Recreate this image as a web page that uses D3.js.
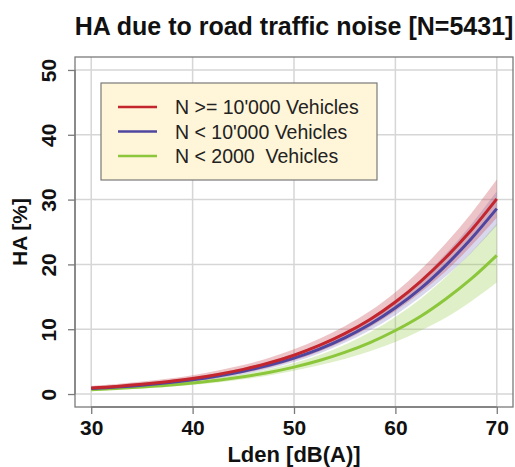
<!DOCTYPE html>
<html>
<head>
<meta charset="utf-8">
<script src="https://cdn.jsdelivr.net/npm/d3@7"></script>
<style>
  body { margin: 0; background: #fff; }
  svg { font-family: "Liberation Sans", Arial, sans-serif; }
  .grid line { stroke: #d6d6d6; stroke-width: 1.5; }
  .axis path, .axis line { stroke: #7a7a7a; stroke-width: 1.3; }
  .axis text { font-size: 21px; font-weight: bold; fill: #111; }
</style>
</head>
<body>
<div id="chart"></div>
<script>
// Lden (dB(A))
const lden = [30, 32.5, 35, 37.5, 40, 42.5, 45, 47.5, 50, 52.5, 55, 57.5, 60, 62.5, 65, 67.5, 70];

// HA [%]
const haHigh   = [0.94, 1.18, 1.50, 1.90, 2.39, 3.02, 3.80, 4.78, 5.99, 7.49, 9.31, 11.5, 14.2, 17.4, 21.1, 25.3, 30.1];
const haHighLo = [0.70, 0.91, 1.17, 1.53, 1.97, 2.51, 3.23, 4.10, 5.20, 6.57, 8.27, 10.36, 12.8, 15.7, 19.0, 22.9, 27.2];
const haHighHi = [1.26, 1.55, 1.92, 2.35, 2.91, 3.63, 4.47, 5.56, 6.90, 8.52, 10.47, 12.8, 15.7, 19.2, 23.3, 27.9, 33.1];

const haMid   = [0.85, 1.08, 1.37, 1.74, 2.20, 2.78, 3.51, 4.42, 5.55, 6.94, 8.67, 10.76, 13.3, 16.3, 19.9, 24.0, 28.6];
const haMidLo = [0.63, 0.83, 1.08, 1.41, 1.84, 2.38, 3.06, 3.90, 4.95, 6.27, 7.91, 9.84, 12.2, 15.0, 18.2, 21.8, 26.0];
const haMidHi = [1.15, 1.41, 1.74, 2.13, 2.62, 3.25, 4.01, 5.00, 6.21, 7.69, 9.49, 11.76, 14.5, 17.7, 21.7, 26.2, 31.3];

const haLow   = [0.68, 0.86, 1.08, 1.35, 1.70, 2.12, 2.66, 3.32, 4.15, 5.17, 6.42, 7.94, 9.80, 12.0, 14.7, 17.8, 21.4];
const haLowLo = [0.50, 0.65, 0.84, 1.09, 1.39, 1.78, 2.28, 2.87, 3.59, 4.44, 5.42, 6.60, 8.02, 9.80, 11.8, 14.3, 17.2];
const haLowHi = [0.94, 1.13, 1.38, 1.68, 2.06, 2.53, 3.11, 3.84, 4.79, 6.01, 7.59, 9.53, 11.9, 14.7, 18.1, 21.9, 26.3];

const seriesNames = ["N >= 10'000 Vehicles", "N < 10'000 Vehicles", "N < 2000  Vehicles"];
const xTicks = [30, 40, 50, 60, 70];
const yTicks = [0, 10, 20, 30, 40, 50];

const W = 515, H = 467;
const plot = { left: 75, right: 513, top: 57, bottom: 407 };

const svg = d3.select("#chart").append("svg")
  .attr("width", W)
  .attr("height", H);

const x = d3.scaleLinear().domain([28.4, 71.6]).range([plot.left, plot.right]);
const y = d3.scaleLinear().domain([-2, 52]).range([plot.bottom, plot.top]);

// grid
svg.append("g").attr("class", "grid")
  .selectAll("line.v").data(xTicks).enter().append("line")
  .attr("x1", d => x(d)).attr("x2", d => x(d))
  .attr("y1", plot.top).attr("y2", plot.bottom);
svg.append("g").attr("class", "grid")
  .selectAll("line.h").data(yTicks).enter().append("line")
  .attr("x1", plot.left).attr("x2", plot.right)
  .attr("y1", d => y(d)).attr("y2", d => y(d));

const series = [
  { name: seriesNames[0], mid: haHigh, lo: haHighLo, hi: haHighHi, color: "#c4262e", band: "rgba(196,60,70,0.30)" },
  { name: seriesNames[1], mid: haMid,  lo: haMidLo,  hi: haMidHi,  color: "#4f46a0", band: "rgba(120,110,190,0.28)" },
  { name: seriesNames[2], mid: haLow,  lo: haLowLo,  hi: haLowHi,  color: "#8cc63a", band: "rgba(140,200,60,0.28)" }
];

const area = d3.area()
  .x((d, i) => x(lden[i]))
  .y0(d => y(d[0]))
  .y1(d => y(d[1]))
  .curve(d3.curveCatmullRom);

const line = d3.line()
  .x((d, i) => x(lden[i]))
  .y(d => y(d))
  .curve(d3.curveCatmullRom);

// bands: green first, red on top
series.slice().reverse().forEach(s => {
  svg.append("path")
    .datum(s.lo.map((v, i) => [v, s.hi[i]]))
    .attr("fill", s.band)
    .attr("d", area);
});

series.slice().reverse().forEach(s => {
  svg.append("path")
    .datum(s.mid)
    .attr("fill", "none")
    .attr("stroke", s.color)
    .attr("stroke-width", 3)
    .attr("d", line);
});

// box
svg.append("rect")
  .attr("x", plot.left).attr("y", plot.top)
  .attr("width", plot.right - plot.left)
  .attr("height", plot.bottom - plot.top)
  .attr("fill", "none")
  .attr("stroke", "#7a7a7a")
  .attr("stroke-width", 1.3);

// axes
svg.append("g").attr("class", "axis")
  .attr("transform", "translate(0," + plot.bottom + ")")
  .call(d3.axisBottom(x).tickValues(xTicks).tickSize(7).tickPadding(6).tickSizeOuter(0))
  .call(g => g.select(".domain").attr("d", "M" + x(30) + ",0H" + x(70)));

svg.append("g").attr("class", "axis")
  .attr("transform", "translate(" + plot.left + ",0)")
  .call(d3.axisLeft(y).tickValues(yTicks).tickSize(7).tickSizeOuter(0))
  .call(g => g.select(".domain").attr("d", "M0," + y(0) + "V" + y(50)))
  .call(g => g.selectAll("text")
    .attr("x", 0).attr("dy", 0)
    .attr("text-anchor", "middle")
    .attr("transform", "translate(-19,0) rotate(-90)"));

// titles
svg.append("text")
  .attr("x", 294).attr("y", 35)
  .attr("text-anchor", "middle")
  .style("font-size", "25px").style("font-weight", "bold")
  .attr("fill", "#111")
  .text("HA due to road traffic noise [N=5431]");

svg.append("text")
  .attr("x", 294).attr("y", 462)
  .attr("text-anchor", "middle")
  .style("font-size", "22px").style("font-weight", "bold")
  .attr("fill", "#111")
  .text("Lden [dB(A)]");

svg.append("text")
  .attr("transform", "translate(27,232) rotate(-90)")
  .attr("text-anchor", "middle")
  .style("font-size", "21px").style("font-weight", "bold")
  .attr("fill", "#111")
  .text("HA [%]");

// legend
const legend = svg.append("g");
legend.append("rect")
  .attr("x", 101).attr("y", 83)
  .attr("width", 276).attr("height", 97)
  .attr("fill", "#fff5d8")
  .attr("stroke", "#7a7a7a")
  .attr("stroke-width", 1.2);

series.forEach((s, i) => {
  const ly = 107 + i * 24.5;
  legend.append("line")
    .attr("x1", 118).attr("x2", 157)
    .attr("y1", ly).attr("y2", ly)
    .attr("stroke", s.color).attr("stroke-width", 2.5);
  legend.append("text")
    .attr("x", 175).attr("y", ly)
    .attr("dy", "0.36em")
    .style("font-size", "19.5px")
    .style("white-space", "pre")
    .attr("fill", "#222")
    .text(s.name);
});
</script>
</body>
</html>
